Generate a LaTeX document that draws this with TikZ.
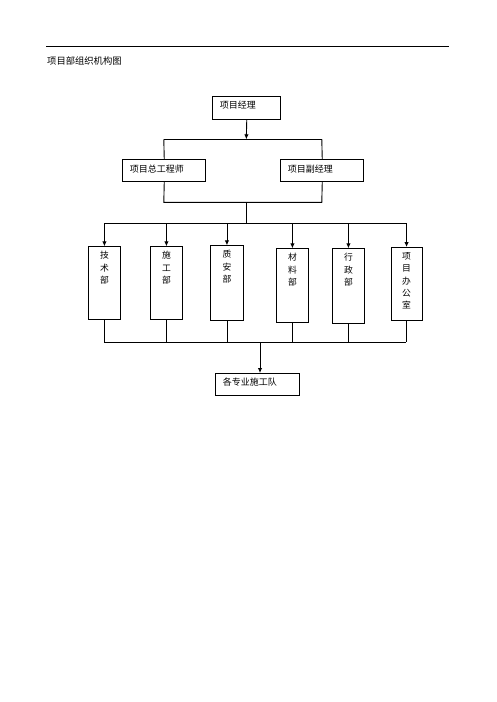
\documentclass[tikz,border=0pt]{standalone}
\usepackage{fontspec}
\setmainfont{Noto Sans CJK SC}
\usetikzlibrary{arrows.meta}
\begin{document}
\begin{tikzpicture}[x=1pt,y=-1pt,
  line/.style={line width=0.9pt},
  arr/.style={line width=0.9pt,-{Latex[length=5pt,width=4.5pt]}},
  hbox/.style={draw,line width=0.9pt,anchor=north west,inner sep=0pt,
    inner xsep=7pt,align=left,font=\fontsize{9}{11}\selectfont,
    text height=12.3pt},
  vbox/.style={draw,line width=0.9pt,anchor=north west,inner sep=0pt,
    align=center,font=\fontsize{8.8}{12.3}\selectfont,text height=12pt}
]
\useasboundingbox (0,0) rectangle (496,702);
\fill[white] (0,0) rectangle (496,702);
% top rule and title
\coordinate (rl) at (46,46.3);
\coordinate (rr) at (449,46.3);
\draw[line width=1pt] (rl) -- (rr);
\node[anchor=base west,inner sep=0pt,font=\fontsize{9.3}{11}\selectfont] (title) at (47,64.2) {项目部组织机构图};

% level 1
\node[hbox,text width=54pt,text depth=11pt] (pm) at (212.3,96) {项目经理};
% level 2
\node[hbox,text width=69pt,text depth=9.7pt] (ce) at (122.3,159.3) {项目总工程师};
\node[hbox,text width=69pt,text depth=9.7pt] (dm) at (280.3,159.3) {项目副经理};

\coordinate (j1) at (246.3,139.3);
\coordinate (j1l) at (163.8,139.3);
\coordinate (j1r) at (321.8,139.3);
\draw[arr] (pm.south) -- (j1);
\draw[line] (j1l) -- (j1r);
\draw[line] (j1l) -- (ce.north);
\draw[line] (j1r) -- (dm.north);

\coordinate (j2l) at (163.8,202.3);
\coordinate (j2r) at (321.8,202.3);
\coordinate (j2) at (246.3,202.3);
\coordinate (j3) at (246.3,223);
\draw[line] (ce.south) -- (j2l) -- (j2r) -- (dm.south);
\draw[line] (j2) -- (j3);

% level 3
\node[vbox,text width=31.4pt,text depth=61pt] (b1) at (88.3,246.3) {技\\术\\部};
\node[vbox,text width=31.4pt,text depth=61pt] (b2) at (150.3,246.3) {施\\工\\部};
\node[vbox,text width=32.4pt,text depth=63pt] (b3) at (210.3,245.3) {质\\安\\部};
\node[vbox,text width=31.4pt,text depth=62pt] (b4) at (276.3,248.3) {材\\料\\部};
\node[vbox,text width=31.4pt,text depth=63pt] (b5) at (332.3,248.3) {行\\政\\部};
\node[vbox,text width=31.2pt,text depth=61.3pt] (b6) at (390.5,247) {项\\目\\办\\公\\室};

\coordinate (h3l) at (104,223);
\coordinate (h3r) at (406.1,223);
\draw[line] (h3l) -- (h3r);
\foreach \b in {b1,b2,b3,b4,b5,b6}{
  \draw[arr] (\b.north |- h3l) -- (\b.north);
}

\coordinate (h4l) at (104,342.3);
\coordinate (h4r) at (406.1,342.3);
\draw[line] (h4l) -- (h4r);
\foreach \b in {b1,b2,b3,b4,b5,b6}{
  \draw[line] (\b.south) -- (\b.south |- h4l);
}

% level 4
\node[hbox,text width=69.4pt,text depth=10pt] (team) at (215.3,373) {各专业施工队};
\coordinate (j4) at (260,342.3);
\draw[arr] (j4) -- (j4 |- team.north);
\end{tikzpicture}
\end{document}
